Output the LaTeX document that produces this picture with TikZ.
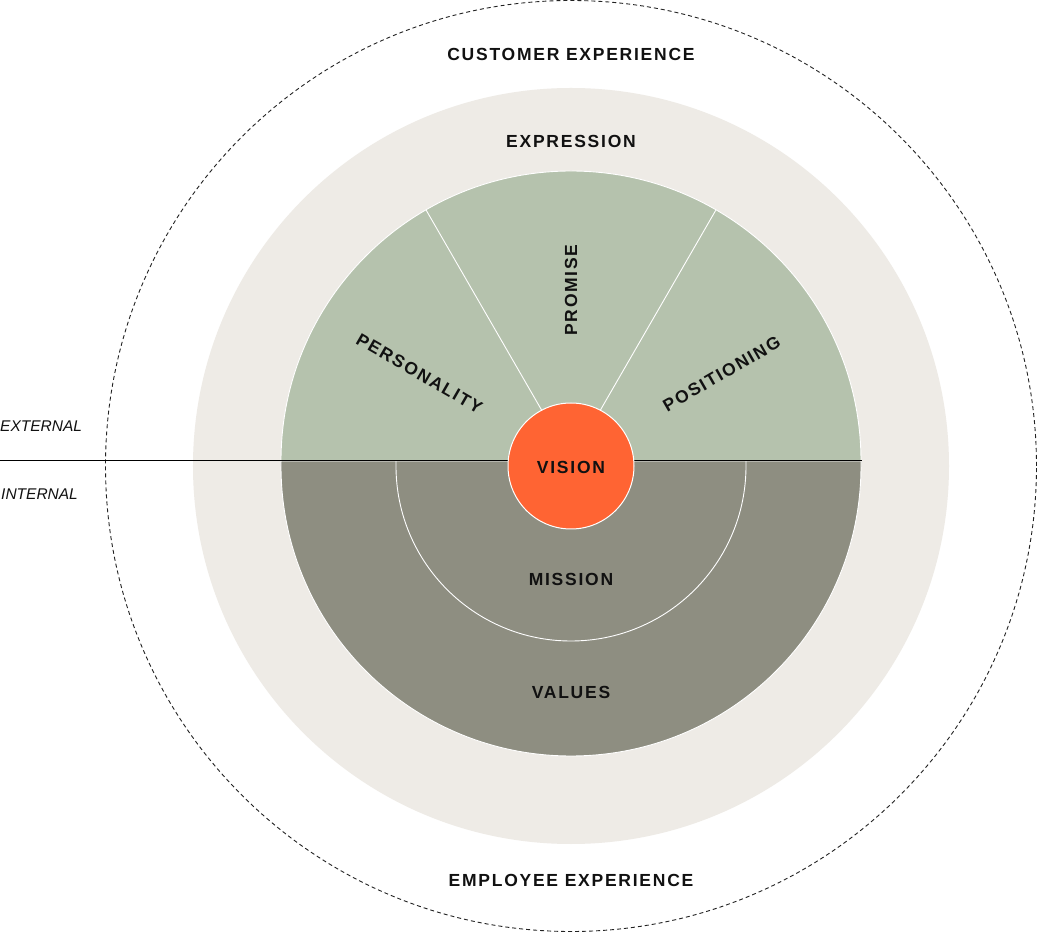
\documentclass[tikz,border=0pt]{standalone}
\usepackage{fontspec}
\usetikzlibrary{calc}
\setmainfont{Liberation Sans}
\newfontfamily\lblfont[LetterSpace=10]{Liberation Sans}
\newfontfamily\sidefont{Liberation Sans}
\definecolor{ink}{HTML}{111111}
\definecolor{beige}{HTML}{EEEBE6}
\definecolor{sage}{HTML}{B5C2AD}
\definecolor{taupe}{HTML}{8E8E81}
\definecolor{visionred}{HTML}{FF6433}
\definecolor{dashgray}{HTML}{222222}
\begin{document}
\begin{tikzpicture}[x=1pt,y=1pt,
  lbl/.style={font=\lblfont\bfseries\fontsize{17.5}{19}\selectfont, text=ink, inner sep=0pt},
  sidelbl/.style={font=\sidefont\itshape\fontsize{15.5}{18}\selectfont, text=ink, inner sep=0pt, anchor=west},
  sepline/.style={draw=white, line width=0.9pt}]
\useasboundingbox (-571,-467) rectangle (467,466);
\fill[white] (-571,-467) rectangle (467,466);
% outer dashed circle
\draw[dashgray, line width=0.9pt, dash pattern=on 4pt off 3pt] (0,0) circle (465.5);
% beige ring
\fill[beige] (0,0) circle (378);
% green upper half
\coordinate (g) at (0,5);
\filldraw[fill=sage, sepline] (-290,5) arc (180:0:290) -- cycle;
\draw[sepline] (g) -- ++(60:290) coordinate (s1);
\draw[sepline] (g) -- ++(120:290) coordinate (s2);
% dark lower half
\filldraw[fill=taupe, sepline] (-290,5) -- (-290,0) arc (180:360:290) -- (290,5) -- cycle;
% mission arc
\draw[sepline] (-175,5) -- (-175,0) arc (180:360:175) -- (175,5);
% divider line
\coordinate (dl) at (-571,5);
\coordinate (dr) at (291,5);
\draw[black, line width=1pt] (dl) -- (dr);
% vision
\node[circle, fill=visionred, draw=white, line width=1pt, minimum size=126pt, inner sep=0pt] (vision) at (0,0) {};
\node[lbl] (visiont) at (0,-1) {VISION};
% labels
\node[lbl] (cx) at (0,412) {CUSTOMER EXPERIENCE};
\node[lbl] (expr) at (0,325) {EXPRESSION};
\node[lbl, rotate=90] (prom) at ($(g)+(90:171)$) {PROMISE};
\node[lbl, rotate=-30] (pers) at ($(g)+(150:175)$) {PERSONALITY};
\node[lbl, rotate=30] (posi) at ($(g)+(30:174)$) {POSITIONING};
\node[lbl] (miss) at (0,-113) {MISSION};
\node[lbl] (vals) at (0,-226) {VALUES};
\node[lbl] (ex) at (0,-414) {EMPLOYEE EXPERIENCE};
\node[sidelbl] (ext) at (-571,40) {EXTERNAL};
\node[sidelbl] (int) at (-570,-28) {INTERNAL};
\end{tikzpicture}
\end{document}
